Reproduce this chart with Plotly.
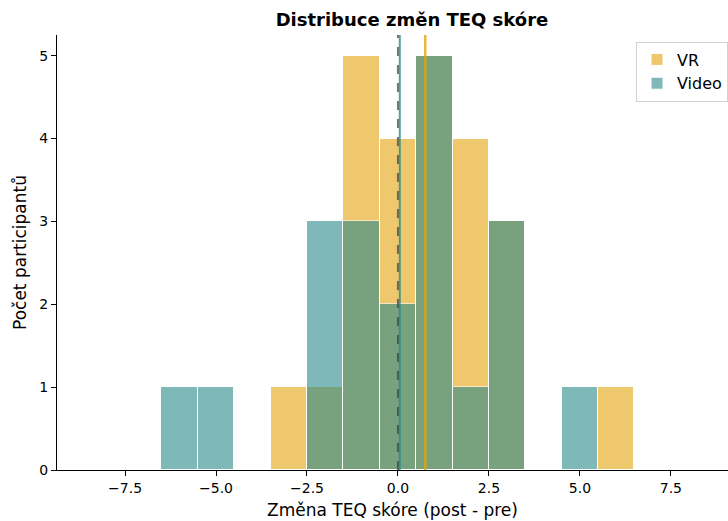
import plotly.graph_objects as go

# Data: histogram bin centres and counts
vr_bins = [-3, -2, -1, 0, 1, 2, 3, 6]
vr_counts = [1, 1, 5, 4, 5, 4, 3, 1]
video_bins = [-6, -5, -2, -1, 0, 1, 2, 3, 5]
video_counts = [1, 1, 3, 3, 2, 5, 1, 3, 1]
vr_mean = 0.75
video_mean = 0.05
zero_line = 0.0

x_tickvals = [-7.5, -5.0, -2.5, 0.0, 2.5, 5.0, 7.5]
x_ticktext = ["\u22127.5", "\u22125.0", "\u22122.5", "0.0", "2.5", "5.0", "7.5"]
y_tickvals = [0, 1, 2, 3, 4, 5]

VR_COLOR = "rgb(230,165,13)"
VIDEO_COLOR = "rgb(42,137,137)"

fig = go.Figure()
fig.add_trace(go.Bar(x=vr_bins, y=vr_counts, width=1, name="VR",
                     marker=dict(color=VR_COLOR, line=dict(color="white", width=1)),
                     opacity=0.6))
fig.add_trace(go.Bar(x=video_bins, y=video_counts, width=1, name="Video",
                     marker=dict(color=VIDEO_COLOR, line=dict(color="white", width=1)),
                     opacity=0.6))

fig.add_shape(type="line", x0=zero_line, x1=zero_line, y0=0, y1=1, xref="x", yref="paper",
              line=dict(color="rgba(60,60,60,0.7)", width=2, dash="dash"), layer="above")
fig.add_shape(type="line", x0=video_mean, x1=video_mean, y0=0, y1=1, xref="x", yref="paper",
              line=dict(color="rgba(42,137,137,0.8)", width=2), layer="above")
fig.add_shape(type="line", x0=vr_mean, x1=vr_mean, y0=0, y1=1, xref="x", yref="paper",
              line=dict(color="rgba(230,165,13,0.8)", width=2.5), layer="above")

fig.update_layout(
    width=728, height=521,
    margin=dict(l=57, r=0, t=35, b=51),
    barmode="overlay",
    bargap=0,
    plot_bgcolor="white", paper_bgcolor="white",
    font=dict(family="DejaVu Sans", size=14, color="black"),
    title=dict(text="<b>Distribuce změn TEQ skóre</b>", x=0.529, xref="paper",
               xanchor="center", y=0.962, yanchor="middle",
               font=dict(size=18, family="DejaVu Sans")),
    legend=dict(x=1.0, xanchor="right", y=0.985, yanchor="top",
                bordercolor="rgb(210,210,210)", borderwidth=1,
                font=dict(size=16), bgcolor="white"),
    xaxis=dict(range=[-9.37, 9.07], tickvals=x_tickvals, ticktext=x_ticktext,
               showgrid=False, zeroline=False, showline=True, linecolor="black",
               linewidth=1, ticks="outside", ticklen=5, tickcolor="black",
               tickfont=dict(size=14),
               title=dict(text="Změna TEQ skóre (post - pre)", font=dict(size=17), standoff=9)),
    yaxis=dict(range=[0, 5.25], tickvals=y_tickvals,
               showgrid=False, zeroline=False, showline=True, linecolor="black",
               linewidth=1, ticks="outside", ticklen=5, tickcolor="black",
               tickfont=dict(size=14),
               title=dict(text="Počet participantů", font=dict(size=17), standoff=8)),
)

fig.write_html("out.html", config={"displayModeBar": False},
               post_script="document.body.style.margin='0';document.body.style.padding='0';")
